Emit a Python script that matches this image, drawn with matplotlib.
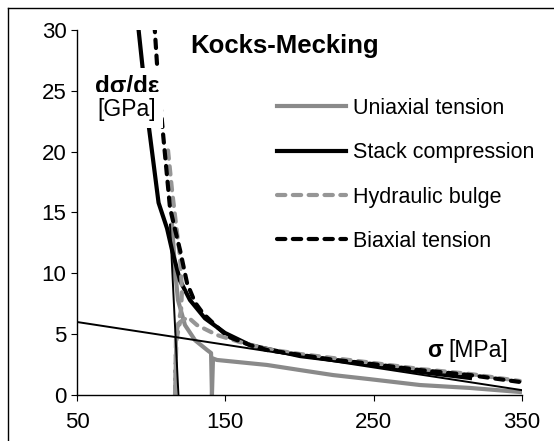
import matplotlib
matplotlib.use('Agg')
import matplotlib.pyplot as plt
from matplotlib.lines import Line2D

plt.rcParams['font.family'] = ['Liberation Sans', 'DejaVu Sans']

# stress sigma [MPa] and hardening rate d(sigma)/d(eps) [GPa]
uniaxial_x = [114.1, 116.1, 118.1, 122.8, 129.6, 137.7, 140.4, 141.0, 141.7, 144.4,
              178.1, 200.4, 222.6, 247.6, 281.3, 315.0, 348.7]
uniaxial_y = [14.0, 10.3, 7.8, 5.75, 4.5, 3.7, 3.45, 0.0, 3.0, 2.88,
              2.47, 2.05, 1.64, 1.3, 0.82, 0.58, 0.25]

stack_x = [91.1, 98.5, 105.0, 110.7, 114.1, 119.5, 126.2, 136.3, 149.8,
           166.7, 200.4, 247.6, 281.3, 315.0]
stack_y = [30.5, 22.0, 15.8, 13.7, 11.9, 9.4, 7.8, 6.3, 5.1,
           4.1, 3.2, 2.5, 1.9, 1.4]

bulge_x = [111.4, 114.1, 116.8, 119.5, 120.8, 120.2, 116.8, 116.1, 117.0, 119.5,
           124.8, 130.9, 144.4, 159.9, 178.1, 200.4, 222.6, 245.6, 281.3, 315.0, 348.7]
bulge_y = [20.1, 16.8, 14.0, 11.3, 8.6, 7.0, 5.0, 0.0, 4.5, 6.0,
           6.4, 5.75, 4.93, 4.35, 3.78, 3.37, 3.04, 2.7, 2.14, 1.73, 1.15]

biaxial_x = [102.2, 103.9, 108.0, 112.7, 116.1, 119.5, 124.2, 129.6, 135.0, 144.4,
             151.8, 166.7, 178.1, 200.4, 222.6, 245.6, 281.3, 315.0, 348.7]
biaxial_y = [30.5, 27.3, 21.5, 15.4, 13.6, 11.9, 9.2, 7.6, 6.7, 5.6,
             4.8, 4.1, 3.7, 3.3, 2.9, 2.6, 2.05, 1.64, 1.07]

# straight fit lines
fit_x = [50, 350]
fit_y = [6.0, 0.4]
steep_x = [112.7, 118.4]
steep_y = [14.0, 0.0]

x_ticks = [50, 150, 250, 350]
y_ticks = [0, 5, 10, 15, 20, 25, 30]
series_names = ['Uniaxial tension', 'Stack compression', 'Hydraulic bulge', 'Biaxial tension']

gray = '#8a8a8a'
lgray = '#969696'

fig = plt.figure(figsize=(5.54, 4.41), dpi=100)
ax = fig.add_axes([0.139, 0.1043, 0.803, 0.8277])

ax.plot(uniaxial_x, uniaxial_y, color=gray, lw=3, solid_joinstyle='round')
ax.plot(stack_x, stack_y, color='black', lw=3, solid_joinstyle='round')
ax.plot(bulge_x, bulge_y, color=lgray, lw=3, dashes=(2, 1.8), dash_capstyle='round')
ax.plot(biaxial_x, biaxial_y, color='black', lw=3, dashes=(2, 1.8), dash_capstyle='round')
ax.plot(fit_x, fit_y, color='black', lw=1.4)
ax.plot(steep_x, steep_y, color='black', lw=1.4)

ax.set_xlim(50, 350)
ax.set_ylim(0, 30)
ax.set_xticks(x_ticks)
ax.set_yticks(y_ticks)
ax.spines['top'].set_visible(False)
ax.spines['right'].set_visible(False)
for s in ['left', 'bottom']:
    ax.spines[s].set_linewidth(1.0)
ax.tick_params(axis='both', direction='out', length=4.5, width=0.8, labelsize=16)
ax.tick_params(axis='x', pad=8)
ax.tick_params(axis='y', pad=3)

box = dict(facecolor='white', edgecolor='none', pad=5)
ax.text(0.112, 0.846, 'dσ/dε', transform=ax.transAxes, ha='center', va='center',
        fontsize=17.5, fontweight='bold', bbox=box, zorder=5)
ax.text(0.112, 0.781, '[GPa]', transform=ax.transAxes, ha='center', va='center',
        fontsize=16.5, bbox=box, zorder=5)
ax.text(0.467, 0.957, 'Kocks-Mecking', transform=ax.transAxes, ha='center', va='center',
        fontsize=18.5, fontweight='bold')
ax.text(0.822, 0.123, 'σ', transform=ax.transAxes, ha='right', va='center',
        fontsize=16.5, fontweight='bold')
ax.text(0.834, 0.123, '[MPa]', transform=ax.transAxes, ha='left', va='center',
        fontsize=16.5)

handles = [
    Line2D([], [], color=gray, lw=3),
    Line2D([], [], color='black', lw=3),
    Line2D([], [], color=lgray, lw=3, dashes=(2, 1.8), dash_capstyle='round'),
    Line2D([], [], color='black', lw=3, dashes=(2, 1.8), dash_capstyle='round'),
]
ax.legend(handles, series_names, loc='center left', bbox_to_anchor=(0.449, 0.603),
          frameon=False, fontsize=15.5, handlelength=3.2, handletextpad=0.35,
          labelspacing=1.08, borderpad=0, borderaxespad=0)

# figure frame (left and top edges visible)
fig.add_artist(Line2D([0.0144, 0.0144], [0.0, 0.982], transform=fig.transFigure,
                      color='black', lw=1.0))
fig.add_artist(Line2D([0.0144, 1.0], [0.982, 0.982], transform=fig.transFigure,
                      color='black', lw=1.0))

fig.savefig('out.png', dpi=100)
